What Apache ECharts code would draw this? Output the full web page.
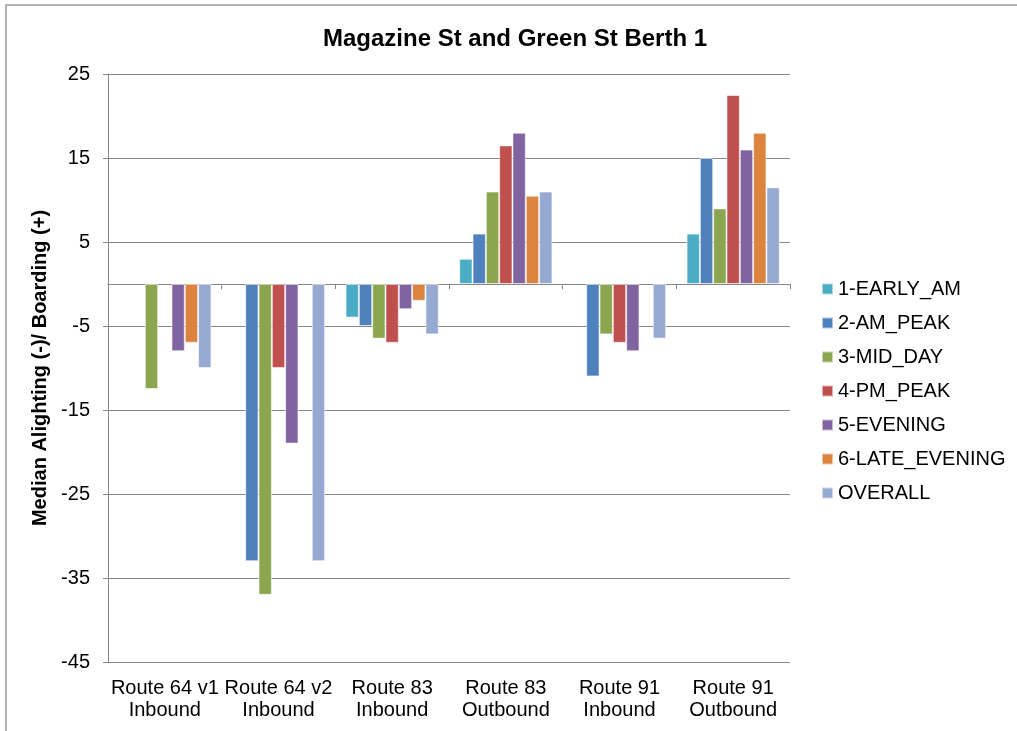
<!DOCTYPE html>
<html>
<head>
<meta charset="utf-8">
<script src="https://cdn.jsdelivr.net/npm/echarts@6/dist/echarts.min.js"></script>
<style>
  html, body { margin: 0; padding: 0; background: #fff; }
  #chart { width: 1017px; height: 731px; }
</style>
</head>
<body>
<div id="chart"></div>
<script>
// Routes serving the stop (category axis)
const categories = [
  'Route 64 v1\nInbound', 'Route 64 v2\nInbound', 'Route 83\nInbound',
  'Route 83\nOutbound', 'Route 91\nInbound', 'Route 91\nOutbound'
];

// Median alighting (-) / boarding (+) per time period; null = no data
const earlyAm    = [null, null,  -4,   3,   null, 6];
const amPeak     = [null, -33,   -5,   6,   -11,  15];
const midDay     = [-12.5, -37,  -6.5, 11,  -6,   9];
const pmPeak     = [null, -10,   -7,   16.5, -7,  22.5];
const evening    = [-8,   -19,   -3,   18,  -8,   16];
const lateEvening= [-7,   null,  -2,   10.5, null, 18];
const overall    = [-10,  -33,   -6,   11,  -6.5, 11.5];

const seriesNames = ['1-EARLY_AM', '2-AM_PEAK', '3-MID_DAY', '4-PM_PEAK', '5-EVENING', '6-LATE_EVENING', 'OVERALL'];
const seriesValues = [earlyAm, amPeak, midDay, pmPeak, evening, lateEvening, overall];
const seriesColors = ['#4BACC6', '#4F81BD', '#8BA64E', '#C0504D', '#8064A2', '#DC843E', '#95A9D1'];

// Value axis ticks
const yMin = -45, yMax = 25, yStep = 10;

const axisGray = '#868686';
const font = 'Arial, "Liberation Sans", sans-serif';

const chart = echarts.init(document.getElementById('chart'), null, { renderer: 'canvas' });

chart.setOption({
  animation: false,
  backgroundColor: '#ffffff',
  color: seriesColors,
  textStyle: { fontFamily: font, color: '#000' },
  title: {
    text: 'Magazine St and Green St Berth 1',
    left: 318,
    top: 22,
    textStyle: { fontFamily: font, fontSize: 24, fontWeight: 'bold', color: '#000' }
  },
  graphic: [{
    type: 'rect',
    shape: { x: 6, y: 5, width: 1030, height: 760 },
    style: { fill: 'none', stroke: '#9a9a9a', lineWidth: 1.5 },
    silent: true
  }],
  legend: {
    orient: 'vertical',
    left: 816,
    top: 274,
    itemWidth: 11,
    itemHeight: 11,
    itemGap: 14,
    icon: 'rect',
    textStyle: { fontFamily: font, fontSize: 20, color: '#000', lineHeight: 20 },
    data: seriesNames
  },
  grid: { left: 108, right: 227, top: 74, bottom: 69, containLabel: false },
  xAxis: [{
    type: 'category',
    data: categories,
    axisLine: { onZero: true, lineStyle: { color: axisGray, width: 1 } },
    axisTick: { show: true, length: 5, lineStyle: { color: axisGray } },
    axisLabel: { show: false },
    splitLine: { show: false }
  }, {
    type: 'category',
    data: categories,
    position: 'bottom',
    axisLine: { show: false, onZero: false },
    axisTick: { show: false },
    axisLabel: {
      margin: 15,
      interval: 0,
      fontFamily: font, fontSize: 20, lineHeight: 22, color: '#000'
    }
  }],
  yAxis: {
    type: 'value',
    min: yMin,
    max: yMax,
    interval: yStep,
    name: 'Median Alighting (-)/ Boarding (+)',
    nameLocation: 'middle',
    nameGap: 51,
    nameTextStyle: { fontFamily: font, fontSize: 20, fontWeight: 'bold', color: '#000' },
    axisLine: { show: true, lineStyle: { color: axisGray, width: 1 } },
    axisTick: { show: true, length: 5, lineStyle: { color: axisGray } },
    axisLabel: { margin: 18, fontFamily: font, fontSize: 20, color: '#000' },
    splitLine: { show: true, lineStyle: { color: axisGray, width: 1 } }
  },
  series: seriesNames.map((name, i) => ({
    name,
    type: 'bar',
    xAxisIndex: 0,
    data: seriesValues[i],
    barGap: '0%',
    barCategoryGap: '18%',
    itemStyle: { color: seriesColors[i], borderColor: 'rgba(255,255,255,0.55)', borderWidth: 1 }
  }))
});
</script>
</body>
</html>
